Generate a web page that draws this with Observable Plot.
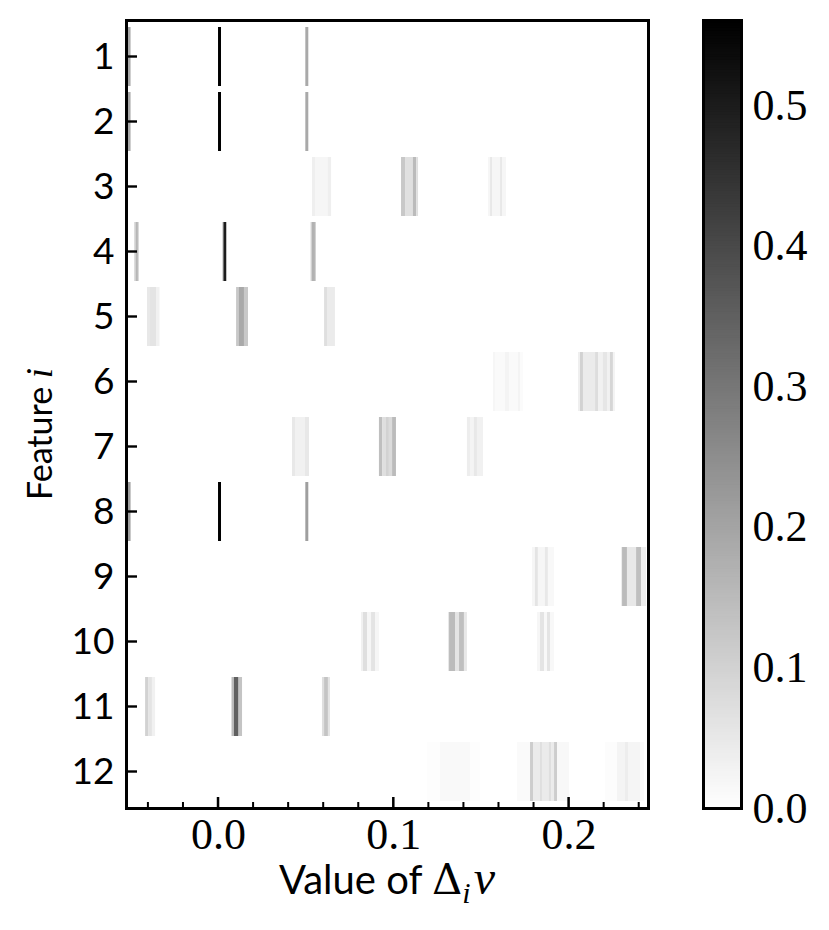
<!DOCTYPE html>
<html><head><meta charset="utf-8">
<script src="https://cdn.jsdelivr.net/npm/d3@7"></script>
<script src="https://cdn.jsdelivr.net/npm/@observablehq/plot@0.6"></script>
<style>
body{margin:0;background:#fff;}
#wrap{position:relative;width:829px;height:930px;}
#wrap svg{position:absolute;top:0;}
</style></head><body><div id="wrap"></div>
<script>
// ---- data: per feature row, segments [x1, x2, density]
const features = [1,2,3,4,5,6,7,8,9,10,11,12];
const row1 = [[-0.0525,-0.0499,0.19],[0.0000,0.0017,0.56],[0.0498,0.0515,0.19]];
const row2 = [[-0.0525,-0.0499,0.19],[0.0000,0.0017,0.56],[0.0498,0.0515,0.19]];
const row3 = [[0.0536,0.0553,0.035],[0.0553,0.0627,0.02],[0.0627,0.0645,0.035],
  [0.1044,0.1067,0.12],[0.1067,0.1112,0.068],[0.1112,0.1130,0.15],[0.1130,0.1141,0.07],
  [0.1540,0.1552,0.02],[0.1552,0.1563,0.05],[0.1563,0.1609,0.02],[0.1609,0.1620,0.05],[0.1620,0.1643,0.02]];
const row4 = [[-0.0479,-0.0471,0.08],[-0.0471,-0.0457,0.16],[-0.0457,-0.0451,0.08],
  [0.0026,0.0031,0.2],[0.0031,0.0046,0.5],[0.0046,0.0051,0.15],
  [0.0528,0.0536,0.1],[0.0536,0.0553,0.17],[0.0553,0.0559,0.1]];
const row5 = [[-0.0405,-0.0388,0.05],[-0.0388,-0.0354,0.06],[-0.0354,-0.0334,0.03],
  [0.0103,0.0117,0.12],[0.0117,0.0148,0.19],[0.0148,0.0171,0.12],
  [0.0605,0.0622,0.07],[0.0622,0.0667,0.045]];
const row6 = [[0.1569,0.1580,0.02],[0.1580,0.1637,0.01],[0.1637,0.1660,0.025],[0.1660,0.1711,0.01],[0.1711,0.1723,0.025],[0.1723,0.1740,0.008],
  [0.2054,0.2065,0.035],[0.2065,0.2082,0.1],[0.2082,0.2151,0.045],[0.2151,0.2168,0.075],[0.2168,0.2196,0.03],[0.2196,0.2219,0.055],[0.2219,0.2236,0.03],[0.2236,0.2253,0.09],[0.2253,0.2265,0.025]];
const row7 = [[0.0422,0.0439,0.05],[0.0439,0.0496,0.03],[0.0496,0.0519,0.05],
  [0.0918,0.0936,0.14],[0.0936,0.0958,0.07],[0.0958,0.0975,0.1],[0.0975,0.0993,0.08],[0.0993,0.1015,0.15],
  [0.1420,0.1438,0.04],[0.1438,0.1460,0.025],[0.1460,0.1477,0.05],[0.1477,0.1512,0.03]];
const row8 = [[-0.0525,-0.0499,0.21],[0.0000,0.0017,0.56],[0.0498,0.0515,0.21]];
const row9 = [[0.1791,0.1808,0.02],[0.1808,0.1825,0.06],[0.1825,0.1865,0.02],[0.1865,0.1882,0.05],[0.1882,0.1917,0.015],
  [0.2299,0.2305,0.04],[0.2305,0.2333,0.15],[0.2333,0.2385,0.05],[0.2385,0.2413,0.14],[0.2413,0.2442,0.04]];
const row10 = [[0.0816,0.0827,0.03],[0.0827,0.0850,0.07],[0.0850,0.0873,0.02],[0.0873,0.0896,0.06],[0.0896,0.0918,0.02],
  [0.1312,0.1318,0.05],[0.1318,0.1352,0.15],[0.1352,0.1375,0.06],[0.1375,0.1403,0.14],[0.1403,0.1420,0.05],
  [0.1820,0.1837,0.02],[0.1837,0.1860,0.06],[0.1860,0.1877,0.015],[0.1877,0.1894,0.06],[0.1894,0.1917,0.015]];
const row11 = [[-0.0416,-0.0399,0.1],[-0.0399,-0.0377,0.06],[-0.0377,-0.0359,0.03],
  [0.0077,0.0091,0.15],[0.0091,0.0117,0.35],[0.0117,0.0137,0.13],
  [0.0593,0.0605,0.07],[0.0605,0.0627,0.13],[0.0627,0.0639,0.06]];
const row12 = [[0.1192,0.1266,0.005],[0.1266,0.1438,0.014],[0.1438,0.1495,0.005],
  [0.1706,0.1780,0.01],[0.1780,0.1797,0.11],[0.1797,0.1837,0.045],[0.1837,0.1848,0.07],[0.1848,0.1888,0.045],[0.1888,0.1900,0.07],[0.1900,0.1917,0.045],[0.1917,0.1934,0.11],[0.1934,0.2002,0.015],
  [0.2208,0.2276,0.006],[0.2276,0.2322,0.025],[0.2322,0.2339,0.04],[0.2339,0.2407,0.022],[0.2407,0.2430,0.01]];
const rows = [row1,row2,row3,row4,row5,row6,row7,row8,row9,row10,row11,row12];

const xTicks = [0, 0.1, 0.2];
const xMinorTicks = [-0.04,-0.02,0.02,0.04,0.06,0.08,0.12,0.14,0.16,0.18,0.22,0.24];
const cbTicks = [0, 0.1, 0.2, 0.3, 0.4, 0.5];
const xDomain = [-0.0525, 0.2453];
const vMax = 0.5605;

const SANS = "Lato, 'Liberation Sans', sans-serif";
const SERIF = "'Liberation Serif', 'DejaVu Serif', serif";

const cells = rows.flatMap((segs, i) => segs.map(([x1, x2, v]) => ({feature: features[i], x1, x2, v})));
const colorScale = {type: "linear", domain: [0, vMax], range: ["#ffffff", "#000000"], interpolate: "rgb"};

const W = 690, H = 930, ML = 126, MR = 42, MT = 20, MB = 122;
const frameW = W - ML - MR, frameH = H - MT - MB;
const majorLen = 11, minorLen = 6, tickW = 2.5;
const pIn = 0.1, pOut = 0.05;
const bandW = 0.9 * frameH / (features.length - pIn + 2 * pOut);

const main = Plot.plot({
  width: W, height: H,
  marginLeft: ML, marginRight: MR, marginTop: MT, marginBottom: MB,
  style: {background: "transparent", overflow: "visible"},
  x: {domain: xDomain},
  y: {type: "band", domain: features, paddingInner: pIn, paddingOuter: pOut},
  color: colorScale,
  marks: [
    Plot.barX(cells, {x1: "x1", x2: "x2", y: "feature", fill: "v"}),
    // inward tick marks (thin filled rects)
    Plot.rect(xTicks, {x1: d => d, x2: d => d, insetLeft: -tickW / 2, insetRight: -tickW / 2, insetTop: frameH - majorLen, fill: "black"}),
    Plot.rect(xMinorTicks, {x1: d => d, x2: d => d, insetLeft: -1, insetRight: -1, insetTop: frameH - minorLen, fill: "black"}),
    Plot.barX(features, {x1: xDomain[0], x2: xDomain[0], y: d => d, insetLeft: 0, insetRight: -majorLen, insetTop: (bandW - tickW) / 2, insetBottom: (bandW - tickW) / 2, fill: "black"}),
    Plot.axisX(xTicks, {tickSize: 0, tickPadding: 9, tickFormat: d => d.toFixed(1), fontFamily: SERIF, fontSize: 44, fill: "black", label: null}),
    Plot.axisY(features, {tickSize: 0, tickPadding: 12, fontFamily: SANS, fontSize: 37, fill: "black", label: null}),
    Plot.frame({stroke: "black", strokeWidth: 3})
  ]
});

// axis titles
{
  const svg = d3.select(main);
  const [r0, r1] = main.scale("x").range;
  const t = svg.append("text").attr("x", (r0 + r1) / 2).attr("y", 894)
    .attr("text-anchor", "middle").attr("font-size", 40).attr("font-family", SANS).attr("fill", "black");
  t.append("tspan").text("Value of ");
  t.append("tspan").attr("font-family", "'DejaVu Serif', serif").attr("font-size", 42).text("Δ");
  t.append("tspan").attr("font-family", SERIF).attr("font-style", "italic").attr("font-size", 30).attr("dy", 9).text("i");
  t.append("tspan").attr("font-family", SERIF).attr("font-style", "italic").attr("font-size", 48).attr("dx", 3).attr("dy", -9).text("v");

  const [y0, y1] = main.scale("y").range;
  const ty = svg.append("text").attr("transform", `translate(52,${(y0 + y1) / 2 + 20}) rotate(-90)`)
    .attr("text-anchor", "middle").attr("font-size", 34).attr("font-family", SANS).attr("fill", "black");
  ty.append("tspan").text("Feature ");
  ty.append("tspan").attr("font-family", SERIF).attr("font-style", "italic").attr("font-size", 37).text("i");
}

// colorbar
const nSteps = 300;
const cbSteps = d3.range(nSteps).map(i => i * vMax / nSteps);
const cb = Plot.plot({
  width: 139, height: H,
  marginLeft: 13, marginRight: 88, marginTop: MT, marginBottom: MB,
  style: {background: "transparent", overflow: "visible"},
  x: {domain: [0, 1], axis: null},
  y: {domain: [0, vMax]},
  color: colorScale,
  marks: [
    Plot.rect(cbSteps, {x1: 0, x2: 1, y1: d => d, y2: d => Math.min(vMax, d + 1.6 * vMax / nSteps), fill: d => d + 0.5 * vMax / nSteps}),
    Plot.frame({stroke: "black", strokeWidth: 3}),
    Plot.axisY(cbTicks, {anchor: "right", tickSize: 0, tickPadding: 11, tickFormat: d => d.toFixed(1), fontFamily: SERIF, fontSize: 44, fill: "black", label: null})
  ]
});
cb.style.left = W + "px";
main.style.left = "0px";
document.getElementById("wrap").append(main, cb);
</script></body></html>
